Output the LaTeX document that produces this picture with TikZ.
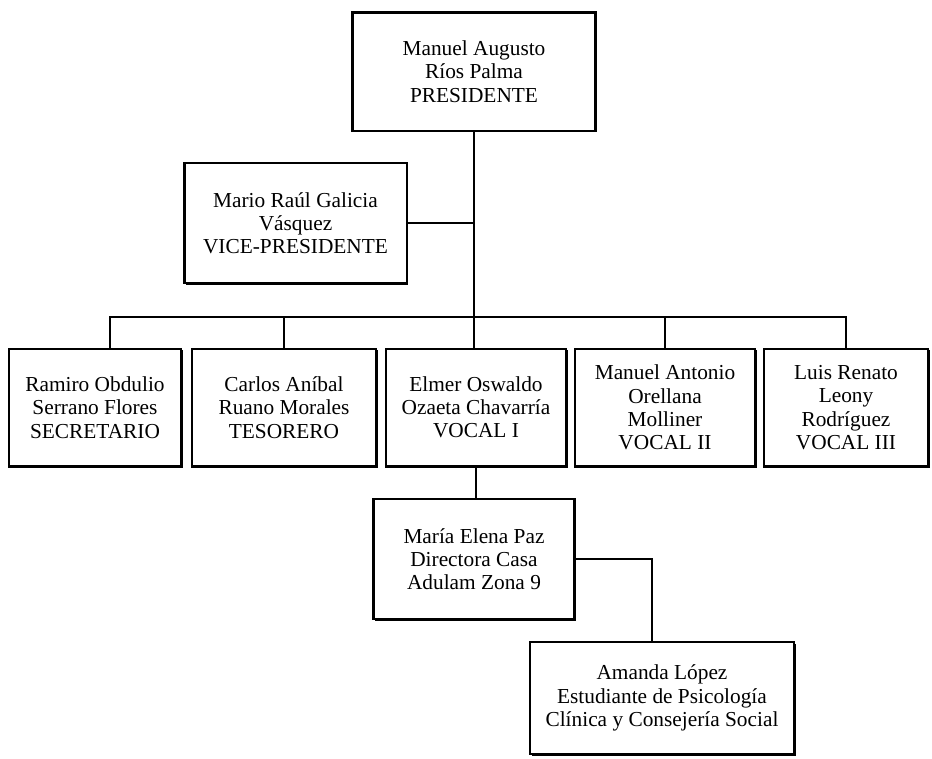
\documentclass[tikz,border=0pt]{standalone}
\usepackage{fontspec}
\setmainfont{Liberation Serif}
\usetikzlibrary{shadows}

\begin{document}
\begin{tikzpicture}[
            x=0.75pt,
            y=-0.75pt,
            cargo/.style={draw, line width=2pt, fill=white, align=center, inner sep=0pt,
                font=\fontsize{16}{17.4}\selectfont,
                drop shadow={shadow xshift=1.2pt, shadow yshift=-1.2pt, fill=black, opacity=1}},
            link/.style={line width=1pt}
        ]
        \useasboundingbox (0,0) rectangle (932,758);

        \node[cargo, minimum width=182pt, minimum height=89pt] (pres) at (474,71.5)
            {Manuel Augusto\\Ríos Palma\\PRESIDENTE};
        \node[cargo, minimum width=167pt, minimum height=90pt] (vice) at (295.5,223)
            {Mario Raúl Galicia\\Vásquez\\VICE-PRESIDENTE};

        \node[cargo, minimum width=129pt, minimum height=88pt] (secr) at (95,407.5)
            {Ramiro Obdulio\\Serrano Flores\\SECRETARIO};
        \node[cargo, minimum width=138pt, minimum height=88pt] (tes) at (284,407.5)
            {Carlos Aníbal\\Ruano Morales\\TESORERO};
        \node[cargo, minimum width=135pt, minimum height=88pt] (voc1) at (476,407.5)
            {Elmer Oswaldo\\Ozaeta Chavarría\\VOCAL I};
        \node[cargo, minimum width=135pt, minimum height=88pt] (voc2) at (665,407.5)
            {Manuel Antonio\\Orellana\\Molliner\\VOCAL II};
        \node[cargo, minimum width=123pt, minimum height=88pt] (voc3) at (846,407.5)
            {Luis Renato\\Leony\\Rodríguez\\VOCAL III};

        \node[cargo, minimum width=151pt, minimum height=90pt] (dir) at (474,559)
            {María Elena Paz\\Directora Casa\\Adulam Zona 9};
        \node[cargo, minimum width=198pt, minimum height=84pt] (est) at (662,698)
            {Amanda López\\Estudiante de Psicología\\Clínica y Consejería Social};

        \coordinate (bus) at (474,317);

        % lineas
        \draw[link] (pres.south) -- (pres.south |- voc1.north);
        \draw[link] (vice.east) -- (vice.east -| pres.south);
        \draw[link] ([xshift=11.25pt]secr.north) |- (voc3.north |- bus) -- (voc3.north);
        \draw[link] (tes.north) -- (tes.north |- bus);
        \draw[link] (voc2.north) -- (voc2.north |- bus);
        \draw[link] (voc1.south) -- (voc1.south |- dir.north);
        \draw[link] (dir.east) -| ([xshift=-7.5pt]est.north);
    \end{tikzpicture}
\end{document}
